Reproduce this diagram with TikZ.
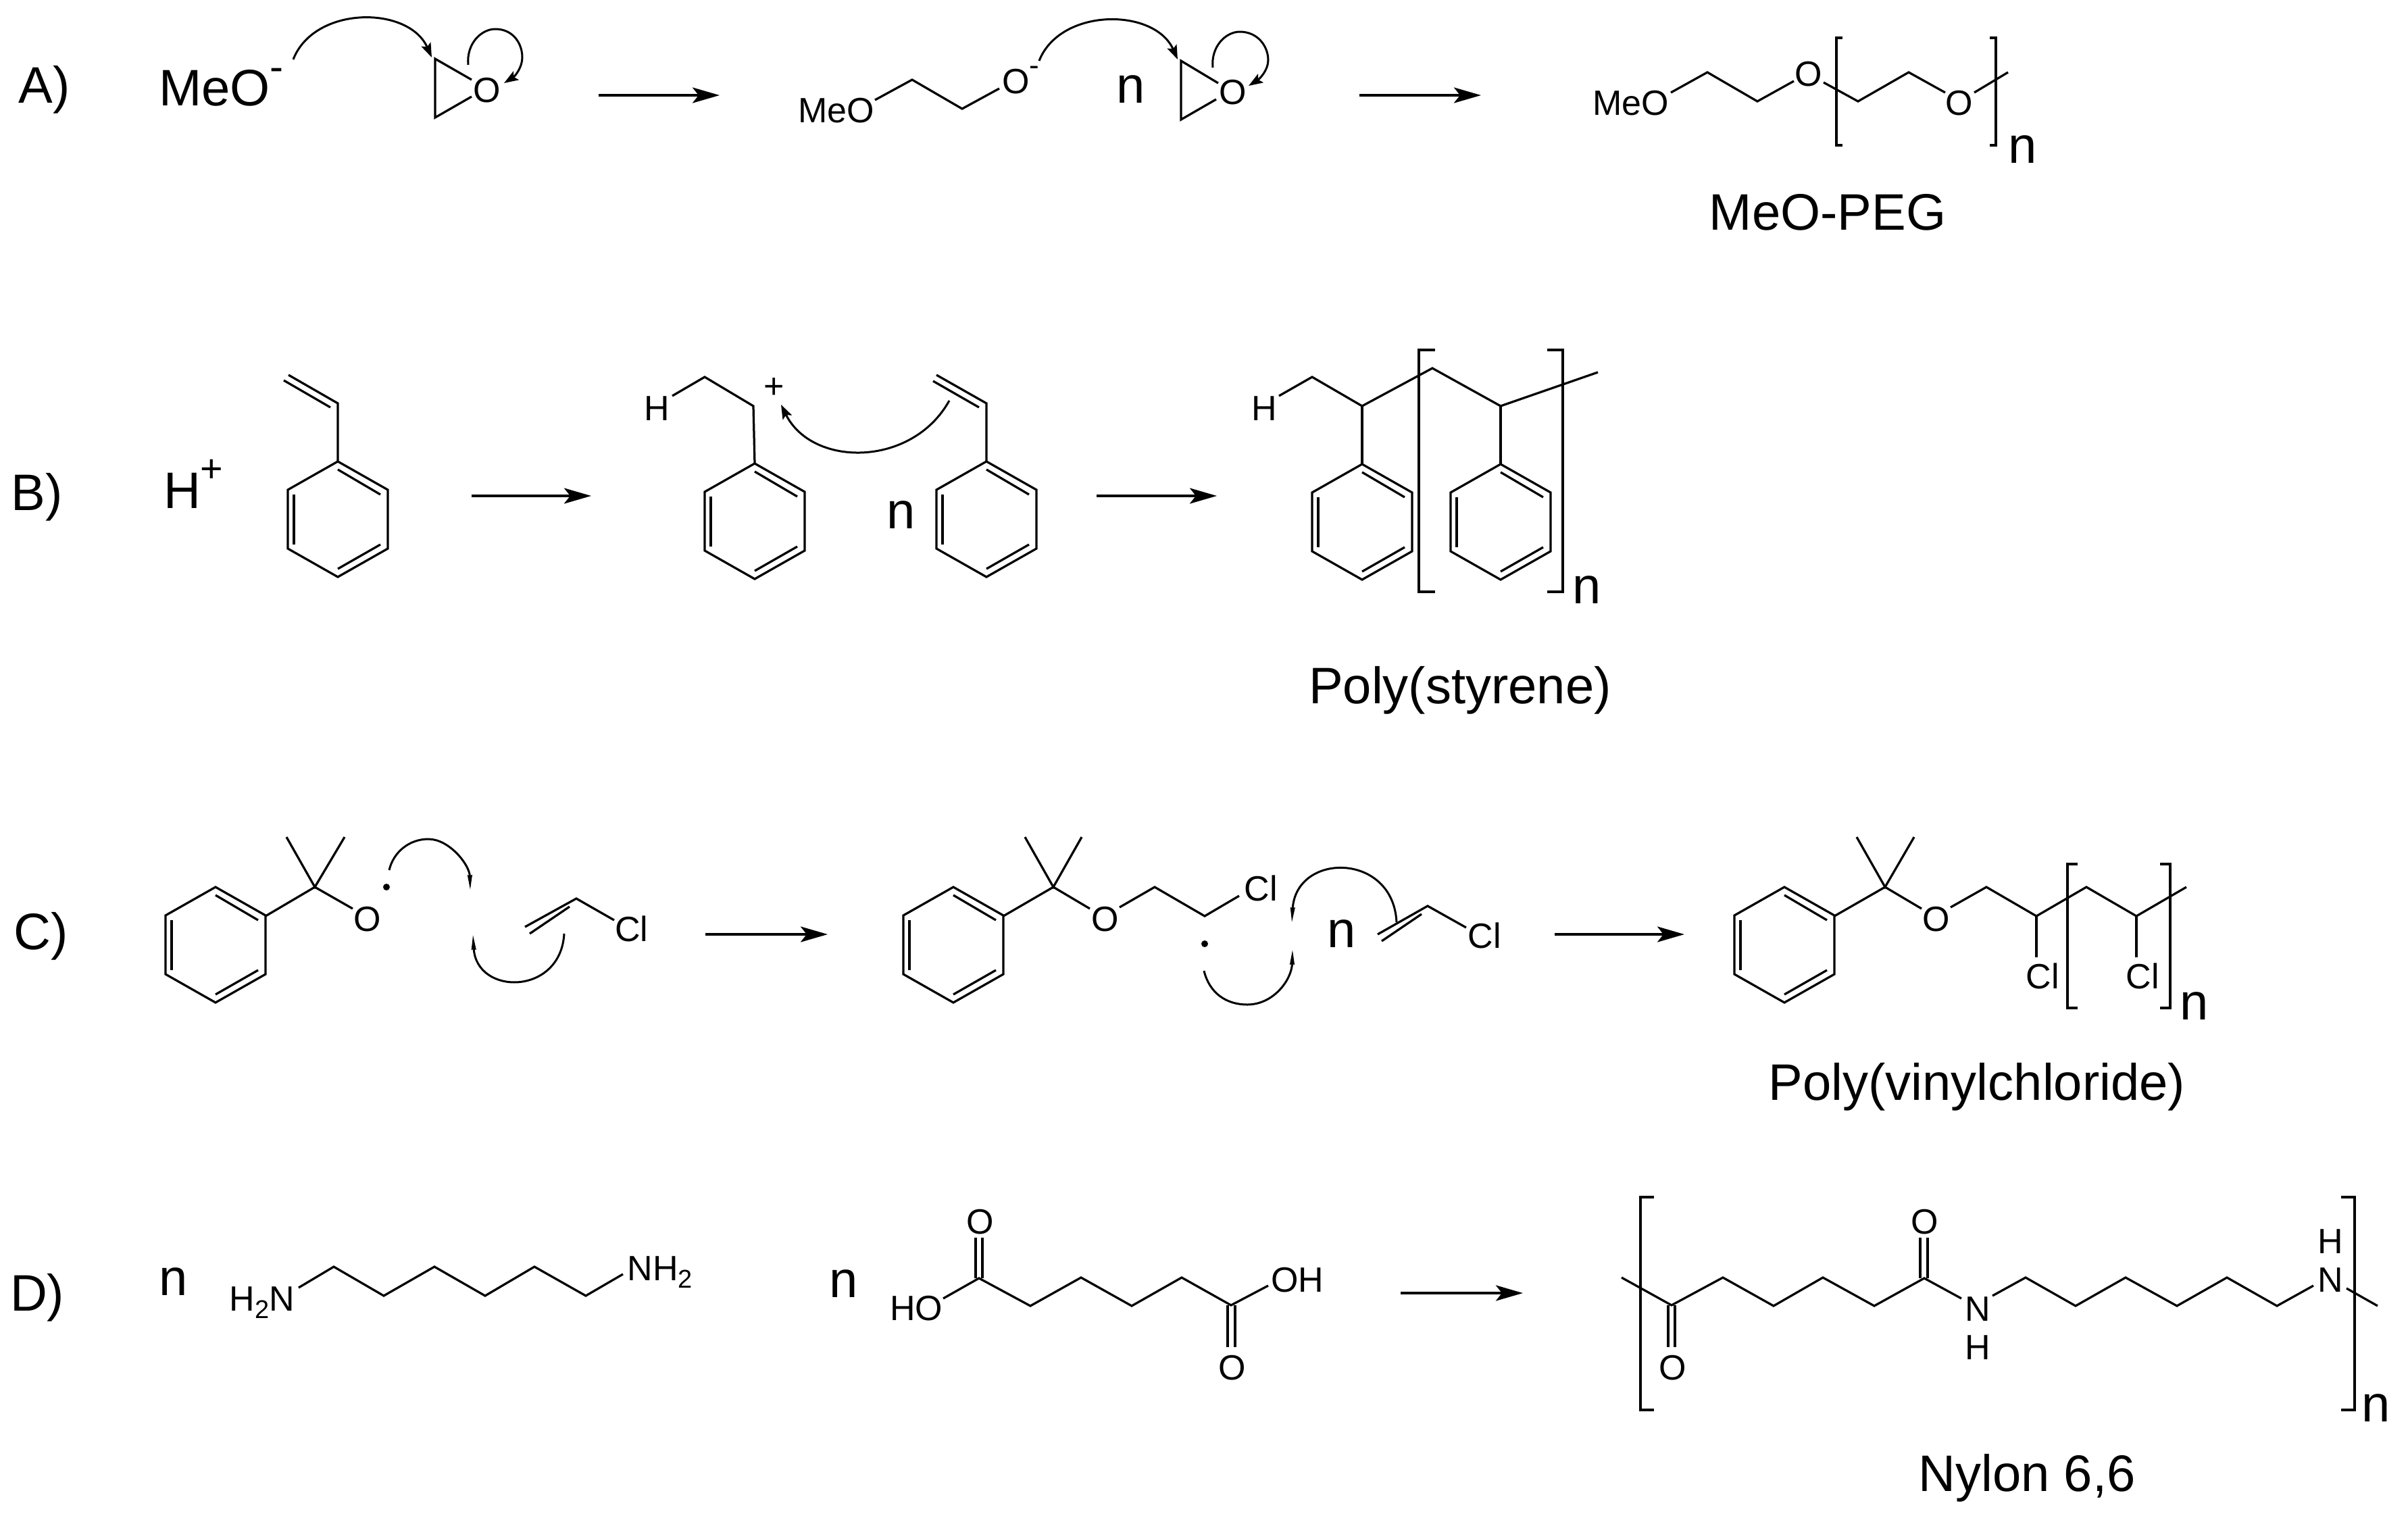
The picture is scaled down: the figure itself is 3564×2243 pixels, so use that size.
\documentclass[tikz,border=0pt]{standalone}
\usepackage{fontspec}
\setmainfont{Liberation Sans}
\usetikzlibrary{arrows.meta}
\newcommand\fbig{\fontsize{15.2}{18}\selectfont}
\newcommand\fsml{\fontsize{10.4}{12}\selectfont}
\newcommand\subtwo{\raisebox{-2.2pt}{\fontsize{7.6}{9}\selectfont 2}}
\tikzset{
  bond/.style={draw=black,line width=0.65pt,line join=miter},
  rxn/.style={draw=black,line width=0.75pt,-{Stealth[length=8pt,width=4.6pt,inset=1.8pt]}},
  curly/.style={draw=black,line width=0.6pt,-{Stealth[length=4.2pt,width=3pt,inset=0.8pt]}},
  hook/.style={draw=black,line width=0.6pt,-{Stealth[length=4.5pt,width=1.3pt,inset=0.2pt]}},
  bigtxt/.style={font=\fbig,inner sep=0pt,anchor=base},
  smtxt/.style={font=\fsml,inner sep=0pt,anchor=base},
}
\newcommand\benz[2]{\begin{scope}[shift={(#1,#2)}]
  \draw[bond] (0,0) -- (74,42) -- (74,129) -- (0,171) -- (-74,129) -- (-74,42) -- cycle;
  \draw[bond] (0,12) -- (63,49);
  \draw[bond] (-65,49) -- (-65,123);
  \draw[bond] (63,123) -- (0,159);
\end{scope}}
\begin{document}
\begin{tikzpicture}[x=0.2pt,y=-0.2pt]
\useasboundingbox (0,0) rectangle (3564,2243);
% ---------- row A
\node[bigtxt,anchor=base west] (la) at (27,152) {A)};
\node[bigtxt,anchor=base west] (meo1) at (234,156) {MeO\raisebox{7.4pt}{\fontsize{12}{12}\selectfont -}};
\draw[bond] (698,118) -- (644,87) -- (644,174) -- (698,143);
\node[smtxt] (ox1) at (721,151) {O};
\draw[curly] (434,88) .. controls (465,8) and (605,8) .. (639,85);
\draw[curly] (693,96) .. controls (690,65) and (712,43) .. (733,43) .. controls (760,43) and (773,65) .. (773,85) .. controls (773,100) and (762,113) .. (746,123);
\coordinate (a1s) at (886,141); \coordinate (a1e) at (1065,141);
\draw[rxn] (a1s) -- (a1e);
\node[smtxt] (meo2) at (1238,181) {MeO};
\draw[bond] (1295,148) -- (1350,118) -- (1424,161) -- (1479,131);
\node[smtxt,anchor=base west] (o2) at (1482,138) {O\raisebox{5.4pt}{\fontsize{8.8}{9}\selectfont -}};
\node[bigtxt] (na1) at (1674,152) {n};
\draw[bond] (1803,123) -- (1748,90) -- (1748,177) -- (1800,147);
\node[smtxt] (ox2) at (1825,154) {O};
\draw[curly] (1538,90) .. controls (1569,11) and (1709,11) .. (1743,88);
\draw[curly] (1795,100) .. controls (1792,69) and (1814,47) .. (1835,47) .. controls (1862,47) and (1877,69) .. (1877,89) .. controls (1877,104) and (1864,117) .. (1848,127);
\coordinate (a2s) at (2012,141); \coordinate (a2e) at (2192,141);
\draw[rxn] (a2s) -- (a2e);
\node[smtxt] (meo3) at (2414,170) {MeO};
\draw[bond] (2473,137) -- (2527,107) -- (2601,150) -- (2655,120);
\node[smtxt] (o3) at (2677,127) {O};
\draw[bond] (2699,122) -- (2750,150) -- (2825,107) -- (2879,137);
\node[smtxt] (o4) at (2900,170) {O};
\draw[bond] (2922,137) -- (2972,107);
\draw[bond] (2727,56) -- (2718,56) -- (2718,215) -- (2727,215);
\draw[bond] (2945,56) -- (2954,56) -- (2954,215) -- (2945,215);
\node[bigtxt] (na2) at (2994,241) {n};
\node[bigtxt] (peg) at (2705,340) {MeO-PEG};
% ---------- row B
\node[bigtxt,anchor=base west] (lb) at (16,755) {B)};
\node[bigtxt,anchor=base west] (hp) at (241,752) {H\raisebox{7.8pt}{\fontsize{11.5}{12}\selectfont +}};
\benz{500}{683}
\draw[bond] (500,683) -- (500,597) -- (427,555);
\draw[bond] (489,603) -- (420,563);
\coordinate (b1s) at (698,734); \coordinate (b1e) at (875,734);
\draw[rxn] (b1s) -- (b1e);
\node[smtxt] (hb1) at (972,622) {H};
\draw[bond] (995,586) -- (1043,558) -- (1115,601) -- (1117,686);
\benz{1117}{686}
\node[smtxt] (pl) at (1146,589) {+};
\draw[curly] (1405,593) .. controls (1350,692) and (1202,692) .. (1156,599);
\node[bigtxt] (nb1) at (1334,782) {n};
\benz{1460}{683}
\draw[bond] (1460,683) -- (1460,597) -- (1386,555);
\draw[bond] (1449,603) -- (1381,564);
\coordinate (b2s) at (1623,734); \coordinate (b2e) at (1801,734);
\draw[rxn] (b2s) -- (b2e);
\node[smtxt] (hb2) at (1871,622) {H};
\draw[bond] (1893,586) -- (1942,558) -- (2016,601) -- (2120,545) -- (2221,601) -- (2365,551);
\draw[bond] (2016,601) -- (2016,687);
\draw[bond] (2221,601) -- (2221,687);
\benz{2016}{687}
\benz{2221}{687}
\draw[bond] (2124,518) -- (2100,518) -- (2100,876) -- (2124,876);
\draw[bond] (2290,518) -- (2313,518) -- (2313,876) -- (2290,876);
\node[bigtxt] (nb2) at (2349,893) {n};
\node[bigtxt] (ps) at (2161,1041) {Poly(styrene)};
% ---------- row C
\node[bigtxt,anchor=base west] (lc) at (20,1405) {C)};
\benz{319}{1313}
\draw[bond] (393,1356) -- (466,1313) -- (522,1345);
\draw[bond] (424,1239) -- (466,1313) -- (510,1239);
\node[smtxt] (oc1) at (544,1378) {O};
\fill (572,1313) circle[radius=5];
\draw[hook] (576,1288) .. controls (582,1262) and (605,1242) .. (634,1242) .. controls (665,1242) and (695,1280) .. (696,1318);
\draw[hook] (835,1382) .. controls (830,1474) and (705,1474) .. (700,1383);
\draw[bond] (777,1372) -- (853,1330) -- (909,1362);
\draw[bond] (843,1342) -- (784,1382);
\node[smtxt] (cl1) at (935,1393) {Cl};
\coordinate (c1s) at (1044,1383); \coordinate (c1e) at (1225,1383);
\draw[rxn] (c1s) -- (c1e);
\benz{1411}{1313}
\draw[bond] (1485,1356) -- (1559,1313) -- (1613,1345);
\draw[bond] (1517,1239) -- (1559,1313) -- (1601,1239);
\node[smtxt] (oc2) at (1636,1378) {O};
\draw[bond] (1657,1343) -- (1709,1313) -- (1783,1356) -- (1834,1326);
\node[smtxt] (cl2) at (1866,1333) {Cl};
\fill (1783,1397) circle[radius=5];
\draw[hook] (1782,1437) .. controls (1790,1470) and (1815,1487) .. (1846,1487) .. controls (1885,1487) and (1912,1450) .. (1913,1405);
\draw[hook] (2067,1365) .. controls (2062,1261) and (1918,1261) .. (1912,1366);
\node[bigtxt] (nc1) at (1986,1402) {n};
\draw[bond] (2039,1383) -- (2113,1341) -- (2170,1373);
\draw[bond] (2104,1353) -- (2045,1393);
\node[smtxt] (cl3) at (2197,1403) {Cl};
\coordinate (c2s) at (2301,1383); \coordinate (c2e) at (2493,1383);
\draw[rxn] (c2s) -- (c2e);
\benz{2641}{1313}
\draw[bond] (2715,1356) -- (2790,1313) -- (2844,1345);
\draw[bond] (2748,1239) -- (2790,1313) -- (2833,1239);
\node[smtxt] (oc3) at (2866,1378) {O};
\draw[bond] (2887,1343) -- (2940,1313) -- (3014,1356) -- (3088,1313) -- (3162,1356) -- (3236,1313);
\draw[bond] (3014,1356) -- (3014,1417);
\draw[bond] (3162,1356) -- (3162,1417);
\node[smtxt] (cl4) at (3023,1463) {Cl};
\node[smtxt] (cl5) at (3171,1463) {Cl};
\draw[bond] (3075,1279) -- (3060,1279) -- (3060,1492) -- (3075,1492);
\draw[bond] (3197,1279) -- (3212,1279) -- (3212,1492) -- (3197,1492);
\node[bigtxt] (nc2) at (3248,1509) {n};
\node[bigtxt] (pvc) at (2926,1628) {Poly(vinylchloride)};
% ---------- row D
\node[bigtxt,anchor=base west] (ld) at (14,1940) {D)};
\node[bigtxt] (nd1) at (257,1917) {n};
\node[smtxt] (h2n) at (388,1940) {H\subtwo N};
\draw[bond] (442,1906) -- (494,1875) -- (568,1918) -- (643,1875) -- (718,1918) -- (791,1875) -- (867,1918) -- (922,1886);
\node[smtxt] (nh2) at (977,1895) {NH\subtwo};
\node[bigtxt] (nd2) at (1249,1920) {n};
\node[smtxt] (ho) at (1356,1954) {HO};
\draw[bond] (1396,1922) -- (1449,1892) -- (1525,1933) -- (1600,1891) -- (1675,1933) -- (1749,1891) -- (1822,1932) -- (1877,1903);
\node[smtxt] (oh) at (1920,1912) {OH};
\draw[bond] (1444,1892) -- (1444,1832);
\draw[bond] (1454,1892) -- (1454,1832);
\node[smtxt] (od1) at (1451,1826) {O};
\draw[bond] (1817,1932) -- (1817,1994);
\draw[bond] (1828,1932) -- (1828,1994);
\node[smtxt] (od2) at (1824,2042) {O};
\coordinate (d1s) at (2073,1914); \coordinate (d1e) at (2254,1914);
\draw[rxn] (d1s) -- (d1e);
\draw[bond] (2448,1772) -- (2428,1772) -- (2428,2087) -- (2448,2087);
\draw[bond] (3465,1772) -- (3485,1772) -- (3485,2087) -- (3465,2087);
\draw[bond] (2400,1891) -- (2474,1932) -- (2550,1891) -- (2625,1933) -- (2698,1891) -- (2774,1933) -- (2848,1892) -- (2903,1922);
\node[smtxt] (nn1) at (2927,1955) {N};
\node[smtxt] (hn1) at (2927,2012) {H};
\draw[bond] (2949,1918) -- (2998,1891) -- (3072,1933) -- (3146,1891) -- (3222,1933) -- (3296,1891) -- (3370,1933) -- (3424,1903);
\node[smtxt] (nn2) at (3449,1912) {N};
\node[smtxt] (hn2) at (3449,1855) {H};
\draw[bond] (3473,1907) -- (3519,1933);
\draw[bond] (2842,1892) -- (2842,1832);
\draw[bond] (2853,1892) -- (2853,1832);
\node[smtxt] (od3) at (2849,1826) {O};
\draw[bond] (2469,1932) -- (2469,1994);
\draw[bond] (2479,1932) -- (2479,1994);
\node[smtxt] (od4) at (2476,2042) {O};
\node[bigtxt] (nd3) at (3517,2104) {n};
\node[bigtxt] (ny) at (3000,2207) {Nylon 6,6};
\end{tikzpicture}
\end{document}
